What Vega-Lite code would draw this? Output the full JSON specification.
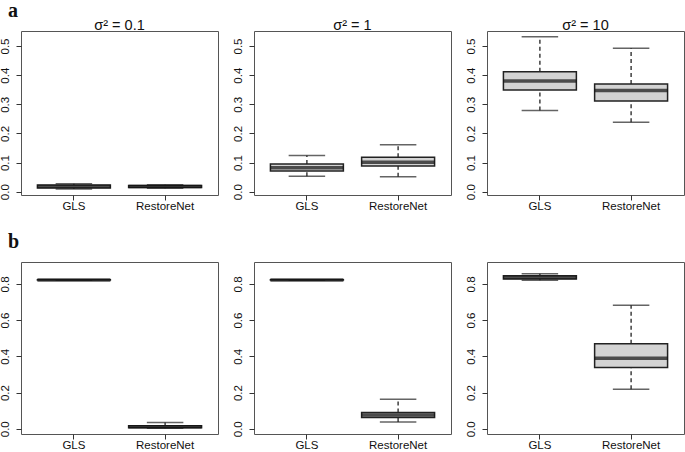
{
  "$schema": "https://vega.github.io/schema/vega-lite/v6.json",
  "background": "white",
  "padding": {"left": -2, "top": 1, "right": 0, "bottom": 0},
  "datasets": {
    "stats": [
      {"panel": "a1", "method": "GLS", "lower": 0.0095, "q1": 0.013, "median": 0.018, "q3": 0.023, "upper": 0.0275},
      {"panel": "a1", "method": "RestoreNet", "lower": 0.0115, "q1": 0.0145, "median": 0.0175, "q3": 0.021, "upper": 0.0235},
      {"panel": "a2", "method": "GLS", "lower": 0.053, "q1": 0.071, "median": 0.082, "q3": 0.095, "upper": 0.124},
      {"panel": "a2", "method": "RestoreNet", "lower": 0.051, "q1": 0.088, "median": 0.101, "q3": 0.118, "upper": 0.161},
      {"panel": "a3", "method": "GLS", "lower": 0.279, "q1": 0.349, "median": 0.38, "q3": 0.412, "upper": 0.532},
      {"panel": "a3", "method": "RestoreNet", "lower": 0.238, "q1": 0.311, "median": 0.347, "q3": 0.37, "upper": 0.492},
      {"panel": "b1", "method": "GLS", "lower": 0.821, "q1": 0.8215, "median": 0.822, "q3": 0.8225, "upper": 0.823},
      {"panel": "b1", "method": "RestoreNet", "lower": 0.003, "q1": 0.006, "median": 0.011, "q3": 0.017, "upper": 0.034},
      {"panel": "b2", "method": "GLS", "lower": 0.821, "q1": 0.8215, "median": 0.822, "q3": 0.8225, "upper": 0.823},
      {"panel": "b2", "method": "RestoreNet", "lower": 0.037, "q1": 0.062, "median": 0.076, "q3": 0.09, "upper": 0.163},
      {"panel": "b3", "method": "GLS", "lower": 0.82, "q1": 0.827, "median": 0.836, "q3": 0.845, "upper": 0.856},
      {"panel": "b3", "method": "RestoreNet", "lower": 0.218, "q1": 0.338, "median": 0.389, "q3": 0.47, "upper": 0.682}
    ]
  },
  "config": {
    "view": {"stroke": "#555", "strokeWidth": 1},
    "font": "Liberation Sans",
    "axis": {"labelFont": "Liberation Sans", "labelFontSize": 11.5, "labelColor": "#111", "tickColor": "#333", "tickSize": 5, "domain": false, "grid": false, "title": null, "labelOverlap": false},
    "title": {"font": "Liberation Sans", "fontSize": 14.5, "fontWeight": "normal", "color": "#111"}
  },
  "spacing": 19,
  "vconcat": [
    {
      "title": {"text": "a", "font": "Liberation Serif", "fontSize": 20, "fontWeight": "bold", "anchor": "start", "frame": "group", "dx": -13, "offset": -4, "color": "#111"},
      "spacing": 36,
      "bounds": "flush",
      "hconcat": [
        {
          "width": 197, "height": 164,
          "title": {"text": "σ² = 0.1", "offset": -2},
          "data": {"name": "stats"},
          "transform": [{"filter": "datum.panel == 'a1'"}],
          "encoding": {"x": {"field": "method", "type": "nominal", "scale": {"domain": ["GLS", "RestoreNet"], "paddingInner": 0.2, "paddingOuter": 0.18}, "axis": {"labelAngle": 0, "labelPadding": 0}}},
          "layer": [
            {"mark": {"type": "rule", "strokeDash": [4, 3], "color": "#222", "strokeWidth": 1.3}, "encoding": {"y": {"field": "lower", "type": "quantitative", "scale": {"domain": [-0.0113, 0.5515], "nice": false, "zero": false}, "axis": {"values": [0, 0.1, 0.2, 0.3, 0.4, 0.5], "format": ".1f", "labelAngle": -90, "labelPadding": 6, "labelOverlap": false}}, "y2": {"field": "q1"}}},
            {"mark": {"type": "rule", "strokeDash": [4, 3], "color": "#222", "strokeWidth": 1.3}, "encoding": {"y": {"field": "q3", "type": "quantitative", "axis": {"values": [0, 0.1, 0.2, 0.3, 0.4, 0.5], "format": ".1f", "labelAngle": -90, "labelPadding": 6, "labelOverlap": false}}, "y2": {"field": "upper"}}},
            {"mark": {"type": "tick", "size": 36.5, "thickness": 1.5, "color": "#222"}, "encoding": {"y": {"field": "lower", "type": "quantitative", "axis": {"values": [0, 0.1, 0.2, 0.3, 0.4, 0.5], "format": ".1f", "labelAngle": -90, "labelPadding": 6, "labelOverlap": false}}}},
            {"mark": {"type": "tick", "size": 36.5, "thickness": 1.5, "color": "#222"}, "encoding": {"y": {"field": "upper", "type": "quantitative", "axis": {"values": [0, 0.1, 0.2, 0.3, 0.4, 0.5], "format": ".1f", "labelAngle": -90, "labelPadding": 6, "labelOverlap": false}}}},
            {"mark": {"type": "bar", "fill": "#d3d3d3", "stroke": "#222", "strokeWidth": 1.5}, "encoding": {"y": {"field": "q1", "type": "quantitative", "axis": {"values": [0, 0.1, 0.2, 0.3, 0.4, 0.5], "format": ".1f", "labelAngle": -90, "labelPadding": 6, "labelOverlap": false}}, "y2": {"field": "q3"}}},
            {"mark": {"type": "tick", "size": 73, "thickness": 3.5, "color": "#111"}, "encoding": {"y": {"field": "median", "type": "quantitative", "axis": {"values": [0, 0.1, 0.2, 0.3, 0.4, 0.5], "format": ".1f", "labelAngle": -90, "labelPadding": 6, "labelOverlap": false}}}}
          ]
        },
        {
          "width": 197, "height": 164,
          "title": {"text": "σ² = 1", "offset": -2},
          "data": {"name": "stats"},
          "transform": [{"filter": "datum.panel == 'a2'"}],
          "encoding": {"x": {"field": "method", "type": "nominal", "scale": {"domain": ["GLS", "RestoreNet"], "paddingInner": 0.2, "paddingOuter": 0.18}, "axis": {"labelAngle": 0, "labelPadding": 0}}},
          "layer": [
            {"mark": {"type": "rule", "strokeDash": [4, 3], "color": "#222", "strokeWidth": 1.3}, "encoding": {"y": {"field": "lower", "type": "quantitative", "scale": {"domain": [-0.0113, 0.5515], "nice": false, "zero": false}, "axis": {"values": [0, 0.1, 0.2, 0.3, 0.4, 0.5], "format": ".1f", "labelAngle": -90, "labelPadding": 6, "labelOverlap": false}}, "y2": {"field": "q1"}}},
            {"mark": {"type": "rule", "strokeDash": [4, 3], "color": "#222", "strokeWidth": 1.3}, "encoding": {"y": {"field": "q3", "type": "quantitative", "axis": {"values": [0, 0.1, 0.2, 0.3, 0.4, 0.5], "format": ".1f", "labelAngle": -90, "labelPadding": 6, "labelOverlap": false}}, "y2": {"field": "upper"}}},
            {"mark": {"type": "tick", "size": 36.5, "thickness": 1.5, "color": "#222"}, "encoding": {"y": {"field": "lower", "type": "quantitative", "axis": {"values": [0, 0.1, 0.2, 0.3, 0.4, 0.5], "format": ".1f", "labelAngle": -90, "labelPadding": 6, "labelOverlap": false}}}},
            {"mark": {"type": "tick", "size": 36.5, "thickness": 1.5, "color": "#222"}, "encoding": {"y": {"field": "upper", "type": "quantitative", "axis": {"values": [0, 0.1, 0.2, 0.3, 0.4, 0.5], "format": ".1f", "labelAngle": -90, "labelPadding": 6, "labelOverlap": false}}}},
            {"mark": {"type": "bar", "fill": "#d3d3d3", "stroke": "#222", "strokeWidth": 1.5}, "encoding": {"y": {"field": "q1", "type": "quantitative", "axis": {"values": [0, 0.1, 0.2, 0.3, 0.4, 0.5], "format": ".1f", "labelAngle": -90, "labelPadding": 6, "labelOverlap": false}}, "y2": {"field": "q3"}}},
            {"mark": {"type": "tick", "size": 73, "thickness": 3.5, "color": "#111"}, "encoding": {"y": {"field": "median", "type": "quantitative", "axis": {"values": [0, 0.1, 0.2, 0.3, 0.4, 0.5], "format": ".1f", "labelAngle": -90, "labelPadding": 6, "labelOverlap": false}}}}
          ]
        },
        {
          "width": 197, "height": 164,
          "title": {"text": "σ² = 10", "offset": -2},
          "data": {"name": "stats"},
          "transform": [{"filter": "datum.panel == 'a3'"}],
          "encoding": {"x": {"field": "method", "type": "nominal", "scale": {"domain": ["GLS", "RestoreNet"], "paddingInner": 0.2, "paddingOuter": 0.18}, "axis": {"labelAngle": 0, "labelPadding": 0}}},
          "layer": [
            {"mark": {"type": "rule", "strokeDash": [4, 3], "color": "#222", "strokeWidth": 1.3}, "encoding": {"y": {"field": "lower", "type": "quantitative", "scale": {"domain": [-0.0113, 0.5515], "nice": false, "zero": false}, "axis": {"values": [0, 0.1, 0.2, 0.3, 0.4, 0.5], "format": ".1f", "labelAngle": -90, "labelPadding": 6, "labelOverlap": false}}, "y2": {"field": "q1"}}},
            {"mark": {"type": "rule", "strokeDash": [4, 3], "color": "#222", "strokeWidth": 1.3}, "encoding": {"y": {"field": "q3", "type": "quantitative", "axis": {"values": [0, 0.1, 0.2, 0.3, 0.4, 0.5], "format": ".1f", "labelAngle": -90, "labelPadding": 6, "labelOverlap": false}}, "y2": {"field": "upper"}}},
            {"mark": {"type": "tick", "size": 36.5, "thickness": 1.5, "color": "#222"}, "encoding": {"y": {"field": "lower", "type": "quantitative", "axis": {"values": [0, 0.1, 0.2, 0.3, 0.4, 0.5], "format": ".1f", "labelAngle": -90, "labelPadding": 6, "labelOverlap": false}}}},
            {"mark": {"type": "tick", "size": 36.5, "thickness": 1.5, "color": "#222"}, "encoding": {"y": {"field": "upper", "type": "quantitative", "axis": {"values": [0, 0.1, 0.2, 0.3, 0.4, 0.5], "format": ".1f", "labelAngle": -90, "labelPadding": 6, "labelOverlap": false}}}},
            {"mark": {"type": "bar", "fill": "#d3d3d3", "stroke": "#222", "strokeWidth": 1.5}, "encoding": {"y": {"field": "q1", "type": "quantitative", "axis": {"values": [0, 0.1, 0.2, 0.3, 0.4, 0.5], "format": ".1f", "labelAngle": -90, "labelPadding": 6, "labelOverlap": false}}, "y2": {"field": "q3"}}},
            {"mark": {"type": "tick", "size": 73, "thickness": 3.5, "color": "#111"}, "encoding": {"y": {"field": "median", "type": "quantitative", "axis": {"values": [0, 0.1, 0.2, 0.3, 0.4, 0.5], "format": ".1f", "labelAngle": -90, "labelPadding": 6, "labelOverlap": false}}}}
          ]
        }
      ]
    },
    {
      "title": {"text": "b", "font": "Liberation Serif", "fontSize": 20, "fontWeight": "bold", "anchor": "start", "frame": "group", "dx": -13, "offset": 10, "color": "#111"},
      "spacing": 36,
      "bounds": "flush",
      "hconcat": [
        {
          "width": 197, "height": 172,
          "data": {"name": "stats"},
          "transform": [{"filter": "datum.panel == 'b1'"}],
          "encoding": {"x": {"field": "method", "type": "nominal", "scale": {"domain": ["GLS", "RestoreNet"], "paddingInner": 0.2, "paddingOuter": 0.18}, "axis": {"labelAngle": 0, "labelPadding": 0}}},
          "layer": [
            {"mark": {"type": "rule", "strokeDash": [4, 3], "color": "#222", "strokeWidth": 1.3}, "encoding": {"y": {"field": "lower", "type": "quantitative", "scale": {"domain": [-0.029, 0.921], "nice": false, "zero": false}, "axis": {"values": [0, 0.2, 0.4, 0.6, 0.8], "format": ".1f", "labelAngle": -90, "labelPadding": 6, "labelOverlap": false}}, "y2": {"field": "q1"}}},
            {"mark": {"type": "rule", "strokeDash": [4, 3], "color": "#222", "strokeWidth": 1.3}, "encoding": {"y": {"field": "q3", "type": "quantitative", "axis": {"values": [0, 0.2, 0.4, 0.6, 0.8], "format": ".1f", "labelAngle": -90, "labelPadding": 6, "labelOverlap": false}}, "y2": {"field": "upper"}}},
            {"mark": {"type": "tick", "size": 36.5, "thickness": 1.5, "color": "#222"}, "encoding": {"y": {"field": "lower", "type": "quantitative", "axis": {"values": [0, 0.2, 0.4, 0.6, 0.8], "format": ".1f", "labelAngle": -90, "labelPadding": 6, "labelOverlap": false}}}},
            {"mark": {"type": "tick", "size": 36.5, "thickness": 1.5, "color": "#222"}, "encoding": {"y": {"field": "upper", "type": "quantitative", "axis": {"values": [0, 0.2, 0.4, 0.6, 0.8], "format": ".1f", "labelAngle": -90, "labelPadding": 6, "labelOverlap": false}}}},
            {"mark": {"type": "bar", "fill": "#d3d3d3", "stroke": "#222", "strokeWidth": 1.5}, "encoding": {"y": {"field": "q1", "type": "quantitative", "axis": {"values": [0, 0.2, 0.4, 0.6, 0.8], "format": ".1f", "labelAngle": -90, "labelPadding": 6, "labelOverlap": false}}, "y2": {"field": "q3"}}},
            {"mark": {"type": "tick", "size": 73, "thickness": 3.5, "color": "#111"}, "encoding": {"y": {"field": "median", "type": "quantitative", "axis": {"values": [0, 0.2, 0.4, 0.6, 0.8], "format": ".1f", "labelAngle": -90, "labelPadding": 6, "labelOverlap": false}}}}
          ]
        },
        {
          "width": 197, "height": 172,
          "data": {"name": "stats"},
          "transform": [{"filter": "datum.panel == 'b2'"}],
          "encoding": {"x": {"field": "method", "type": "nominal", "scale": {"domain": ["GLS", "RestoreNet"], "paddingInner": 0.2, "paddingOuter": 0.18}, "axis": {"labelAngle": 0, "labelPadding": 0}}},
          "layer": [
            {"mark": {"type": "rule", "strokeDash": [4, 3], "color": "#222", "strokeWidth": 1.3}, "encoding": {"y": {"field": "lower", "type": "quantitative", "scale": {"domain": [-0.029, 0.921], "nice": false, "zero": false}, "axis": {"values": [0, 0.2, 0.4, 0.6, 0.8], "format": ".1f", "labelAngle": -90, "labelPadding": 6, "labelOverlap": false}}, "y2": {"field": "q1"}}},
            {"mark": {"type": "rule", "strokeDash": [4, 3], "color": "#222", "strokeWidth": 1.3}, "encoding": {"y": {"field": "q3", "type": "quantitative", "axis": {"values": [0, 0.2, 0.4, 0.6, 0.8], "format": ".1f", "labelAngle": -90, "labelPadding": 6, "labelOverlap": false}}, "y2": {"field": "upper"}}},
            {"mark": {"type": "tick", "size": 36.5, "thickness": 1.5, "color": "#222"}, "encoding": {"y": {"field": "lower", "type": "quantitative", "axis": {"values": [0, 0.2, 0.4, 0.6, 0.8], "format": ".1f", "labelAngle": -90, "labelPadding": 6, "labelOverlap": false}}}},
            {"mark": {"type": "tick", "size": 36.5, "thickness": 1.5, "color": "#222"}, "encoding": {"y": {"field": "upper", "type": "quantitative", "axis": {"values": [0, 0.2, 0.4, 0.6, 0.8], "format": ".1f", "labelAngle": -90, "labelPadding": 6, "labelOverlap": false}}}},
            {"mark": {"type": "bar", "fill": "#d3d3d3", "stroke": "#222", "strokeWidth": 1.5}, "encoding": {"y": {"field": "q1", "type": "quantitative", "axis": {"values": [0, 0.2, 0.4, 0.6, 0.8], "format": ".1f", "labelAngle": -90, "labelPadding": 6, "labelOverlap": false}}, "y2": {"field": "q3"}}},
            {"mark": {"type": "tick", "size": 73, "thickness": 3.5, "color": "#111"}, "encoding": {"y": {"field": "median", "type": "quantitative", "axis": {"values": [0, 0.2, 0.4, 0.6, 0.8], "format": ".1f", "labelAngle": -90, "labelPadding": 6, "labelOverlap": false}}}}
          ]
        },
        {
          "width": 197, "height": 172,
          "data": {"name": "stats"},
          "transform": [{"filter": "datum.panel == 'b3'"}],
          "encoding": {"x": {"field": "method", "type": "nominal", "scale": {"domain": ["GLS", "RestoreNet"], "paddingInner": 0.2, "paddingOuter": 0.18}, "axis": {"labelAngle": 0, "labelPadding": 0}}},
          "layer": [
            {"mark": {"type": "rule", "strokeDash": [4, 3], "color": "#222", "strokeWidth": 1.3}, "encoding": {"y": {"field": "lower", "type": "quantitative", "scale": {"domain": [-0.029, 0.921], "nice": false, "zero": false}, "axis": {"values": [0, 0.2, 0.4, 0.6, 0.8], "format": ".1f", "labelAngle": -90, "labelPadding": 6, "labelOverlap": false}}, "y2": {"field": "q1"}}},
            {"mark": {"type": "rule", "strokeDash": [4, 3], "color": "#222", "strokeWidth": 1.3}, "encoding": {"y": {"field": "q3", "type": "quantitative", "axis": {"values": [0, 0.2, 0.4, 0.6, 0.8], "format": ".1f", "labelAngle": -90, "labelPadding": 6, "labelOverlap": false}}, "y2": {"field": "upper"}}},
            {"mark": {"type": "tick", "size": 36.5, "thickness": 1.5, "color": "#222"}, "encoding": {"y": {"field": "lower", "type": "quantitative", "axis": {"values": [0, 0.2, 0.4, 0.6, 0.8], "format": ".1f", "labelAngle": -90, "labelPadding": 6, "labelOverlap": false}}}},
            {"mark": {"type": "tick", "size": 36.5, "thickness": 1.5, "color": "#222"}, "encoding": {"y": {"field": "upper", "type": "quantitative", "axis": {"values": [0, 0.2, 0.4, 0.6, 0.8], "format": ".1f", "labelAngle": -90, "labelPadding": 6, "labelOverlap": false}}}},
            {"mark": {"type": "bar", "fill": "#d3d3d3", "stroke": "#222", "strokeWidth": 1.5}, "encoding": {"y": {"field": "q1", "type": "quantitative", "axis": {"values": [0, 0.2, 0.4, 0.6, 0.8], "format": ".1f", "labelAngle": -90, "labelPadding": 6, "labelOverlap": false}}, "y2": {"field": "q3"}}},
            {"mark": {"type": "tick", "size": 73, "thickness": 3.5, "color": "#111"}, "encoding": {"y": {"field": "median", "type": "quantitative", "axis": {"values": [0, 0.2, 0.4, 0.6, 0.8], "format": ".1f", "labelAngle": -90, "labelPadding": 6, "labelOverlap": false}}}}
          ]
        }
      ]
    }
  ]
}
